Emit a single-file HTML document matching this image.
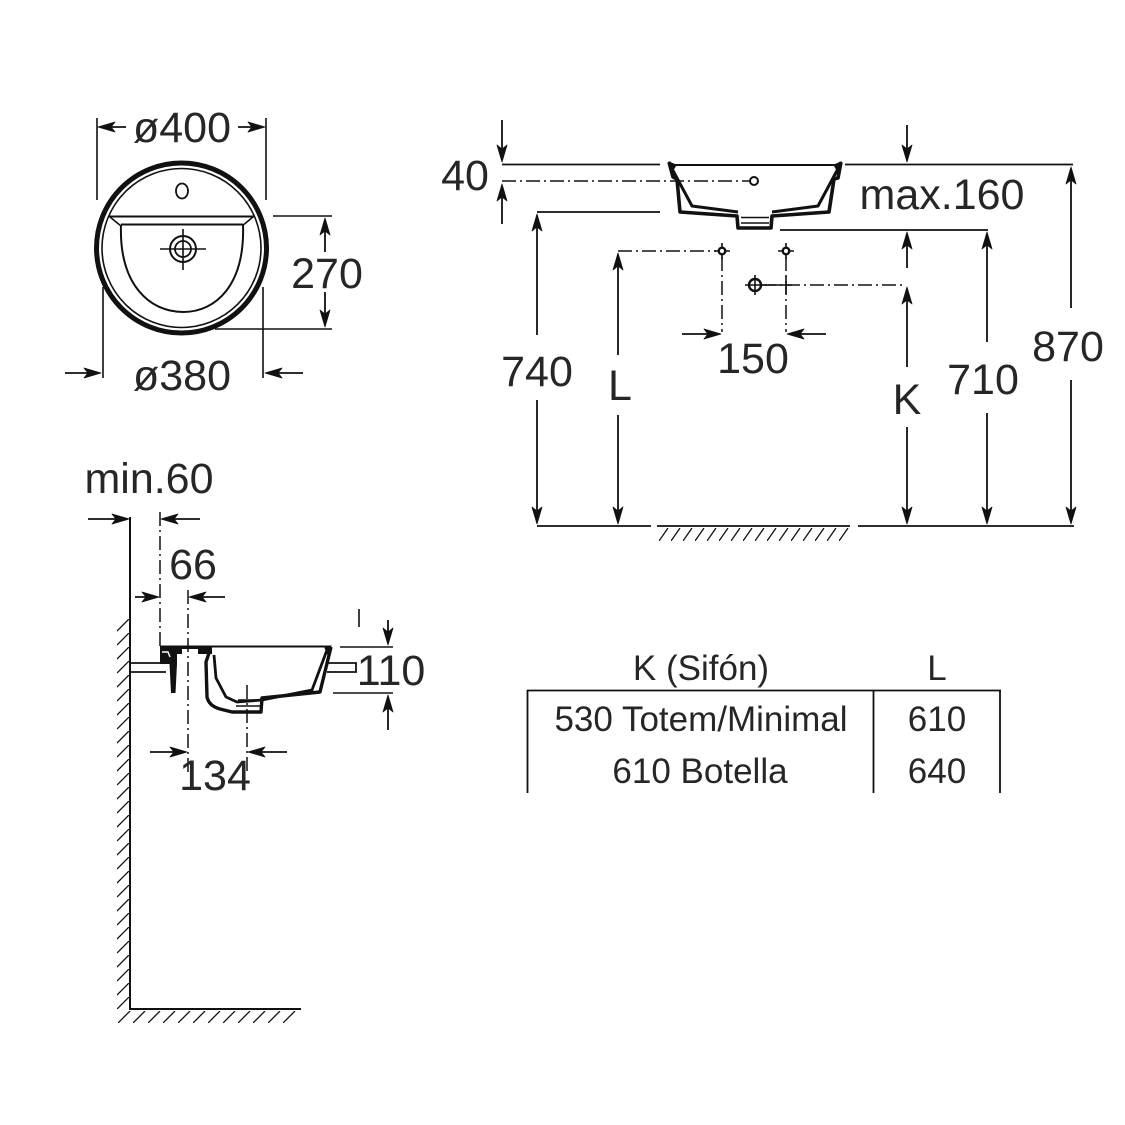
<!DOCTYPE html>
<html>
<head>
<meta charset="utf-8">
<style>
html,body{margin:0;padding:0;background:#fff;}
svg{display:block;}
text{font-family:"Liberation Sans",Arial,sans-serif;fill:#262626;}
</style>
</head>
<body>
<svg width="1125" height="1125" viewBox="0 0 1125 1125" xmlns="http://www.w3.org/2000/svg">
<defs>
<path id="h" d="M0,0 L-17,-5 L-13,0 L-17,5 Z" fill="#111" stroke="#111" stroke-width="0.8" stroke-linejoin="round"/>
<pattern id="pw" x="117" y="619" width="12" height="14" patternUnits="userSpaceOnUse">
<line x1="0" y1="12" x2="12" y2="0" stroke="#111" stroke-width="1.3"/>
</pattern>
<pattern id="pf" x="118" y="1011" width="15" height="12" patternUnits="userSpaceOnUse">
<line x1="0" y1="12" x2="12" y2="0" stroke="#111" stroke-width="1.3"/>
</pattern>
<pattern id="pg" x="659" y="528" width="12" height="13" patternUnits="userSpaceOnUse">
<line x1="0" y1="13" x2="9" y2="0" stroke="#111" stroke-width="1.3"/>
</pattern>
</defs>
<rect width="1125" height="1125" fill="#fff"/>

<!-- plan view -->
<g fill="none" stroke="#111">
<circle cx="181.5" cy="248" r="85" stroke-width="5"/>
<circle cx="181.5" cy="248" r="79.5" stroke-width="1.6"/>
<ellipse cx="182" cy="191" rx="6" ry="7.5" stroke-width="1.8"/>
<path d="M109,216.5 H254 M121,224.5 H243" stroke-width="2"/>
<path d="M110,217 L121,226 M253,217 L242,226" stroke-width="1.6"/>
<path d="M121,225 C119,285 150,312 183,312 C216,312 245,285 243,225" stroke-width="2"/>
<circle cx="183" cy="249" r="13" stroke-width="2"/>
<circle cx="183" cy="249" r="8" stroke-width="1.8"/>
<path d="M160,249 H206 M183,229 V270" stroke-width="1.6"/>
<path d="M97,118 V200 M266,118 V200 M273,216 H332 M215,329 H332 M103,287 V378 M263,287 V378" stroke-width="1.6"/>
<path d="M126,127 H100 M238,127 H263 M325,252 V220 M325,292 V325 M65,373 H99 M303,373 H267" stroke-width="1.8"/>
</g>
<use href="#h" transform="translate(98,127) rotate(180)"/>
<use href="#h" transform="translate(265,127)"/>
<use href="#h" transform="translate(325,218) rotate(-90)"/>
<use href="#h" transform="translate(325,327) rotate(90)"/>
<use href="#h" transform="translate(101,373)"/>
<use href="#h" transform="translate(265,373) rotate(180)"/>
<text x="182" y="142" font-size="43" text-anchor="middle">ø400</text>
<text x="327" y="288" font-size="43" text-anchor="middle">270</text>
<text x="182" y="390" font-size="43" text-anchor="middle">ø380</text>

<!-- elevation -->
<g fill="none" stroke="#111">
<path d="M502,164.5 H660 M537,212 H660 M845,164.5 H1073 M780,230 H988 M537,526 H651 M657,526 H850 M858,526 H1074" stroke-width="1.8"/>
<path d="M502,181 H750 M618,251 H716 M722,257 V332 M786,257 V332 M762,285 H906" stroke-width="1.5" stroke-dasharray="14 4 2 4"/>
<circle cx="754" cy="181" r="4" stroke-width="2" fill="#fff"/>
<path d="M714,251 H730 M722,243 V259 M778,251 H794 M786,243 V259 M745,285 H792 M755,275 V295 M786,276 V294" stroke-width="1.6"/>
<circle cx="722" cy="251" r="3.3" stroke-width="2.4" fill="#fff"/>
<circle cx="786" cy="251" r="3.3" stroke-width="2.4" fill="#fff"/>
<circle cx="755" cy="285" r="6" stroke-width="2.4"/>
<path d="M670,165 H840" stroke-width="2"/>
<path d="M669,162 L673,177 L677,179 L680,212 L737,216 L738,228 L771,228 L772,216 L829,212 L834,179 L838,178 L841,162" stroke-width="3.6" stroke-linejoin="round"/>
<path d="M670,165 L692,206 L738,212 M840,165 L818,206 L772,212" stroke-width="3" stroke-linejoin="round"/>
<path d="M669,162 L676,165 L672,172 Z M841,162 L834,165 L838,172 Z" fill="#111" stroke-width="1"/>
<path d="M741,217.5 H769 M741,223 H769" stroke-width="1.6"/>
<path d="M502,120 V160 M502,224 V186 M907,125 V160 M537,335 V216 M537,400 V522 M618,355 V255 M618,415 V522 M907,268 V234 M907,367 V289 M907,427 V522 M987,342 V234 M987,413 V522 M1071,308 V169 M1071,380 V522 M682,334 H719 M826,334 H789" stroke-width="1.8"/>
</g>
<rect x="659" y="528" width="192" height="13" fill="url(#pg)"/>
<use href="#h" transform="translate(502,162) rotate(90)"/>
<use href="#h" transform="translate(502,184) rotate(-90)"/>
<use href="#h" transform="translate(907,162) rotate(90)"/>
<use href="#h" transform="translate(537,214) rotate(-90)"/>
<use href="#h" transform="translate(537,524) rotate(90)"/>
<use href="#h" transform="translate(618,253) rotate(-90)"/>
<use href="#h" transform="translate(618,524) rotate(90)"/>
<use href="#h" transform="translate(907,232) rotate(-90)"/>
<use href="#h" transform="translate(907,287) rotate(-90)"/>
<use href="#h" transform="translate(907,524) rotate(90)"/>
<use href="#h" transform="translate(987,232) rotate(-90)"/>
<use href="#h" transform="translate(987,524) rotate(90)"/>
<use href="#h" transform="translate(1071,167) rotate(-90)"/>
<use href="#h" transform="translate(1071,524) rotate(90)"/>
<use href="#h" transform="translate(721,334)"/>
<use href="#h" transform="translate(787,334) rotate(180)"/>
<text x="465" y="190" font-size="43" text-anchor="middle">40</text>
<text x="942" y="209" font-size="43" text-anchor="middle">max.160</text>
<text x="1068" y="361" font-size="43" text-anchor="middle">870</text>
<text x="537" y="386" font-size="43" text-anchor="middle">740</text>
<text x="620" y="400" font-size="43" text-anchor="middle">L</text>
<text x="753" y="373" font-size="43" text-anchor="middle">150</text>
<text x="907" y="414" font-size="43" text-anchor="middle">K</text>
<text x="983" y="394" font-size="43" text-anchor="middle">710</text>

<!-- side view -->
<rect x="117" y="619" width="12" height="390" fill="url(#pw)"/>
<rect x="118" y="1011" width="180" height="12" fill="url(#pf)"/>
<g fill="none" stroke="#111">
<path d="M130,517 V1009 H301" stroke-width="2"/>
<path d="M130,663 H166 M130,672 H166 M327,663 H356 V672 H327" stroke-width="1.8"/>
<path d="M160,646.5 H331" stroke-width="2"/>
<path d="M160,646 L212,646 L212,654 L177,654 L177,664 L175.5,693 L171,693 L169.5,664 L160,664 Z" fill="#111" stroke="none"/>
<rect x="182" y="649" width="16" height="5" fill="#fff" stroke="none"/>
<path d="M162,652 L168,652 L170,657" stroke="#fff" stroke-width="1.4"/>
<path d="M210,650 L206,662 L207,697 Q209,706 220,709 L232,712 L261,712 L262,698 L320,692 L331,647" stroke-width="3.4" stroke-linejoin="round"/>
<path d="M214,655 L216,678 L226,697 L237,702 L262,700 L312,690 L327,650" stroke-width="2.8" stroke-linejoin="round"/>
<path d="M331,646 L325,648 L329,657 Z" fill="#111" stroke-width="1"/>
<path d="M238,700 H258 M236,706 H260" stroke-width="1.5"/>
<path d="M160,512 V646 M188,590 V775 M247,685 V775" stroke-width="1.5" stroke-dasharray="14 4 2 4"/>
<path d="M340,647 H393 M333,693 H393 M359,609 V627" stroke-width="1.6"/>
<path d="M88,519 H127 M200,519 H163 M135,597 H157 M225,597 H191 M150,752 H185 M287,752 H250 M388,620 V643 M388,730 V697" stroke-width="1.8"/>
</g>
<use href="#h" transform="translate(129,519)"/>
<use href="#h" transform="translate(161,519) rotate(180)"/>
<use href="#h" transform="translate(159,597)"/>
<use href="#h" transform="translate(189,597) rotate(180)"/>
<use href="#h" transform="translate(187,752)"/>
<use href="#h" transform="translate(248,752) rotate(180)"/>
<use href="#h" transform="translate(388,645) rotate(90)"/>
<use href="#h" transform="translate(388,695) rotate(-90)"/>
<text x="149" y="493" font-size="43" text-anchor="middle">min.60</text>
<text x="193" y="579" font-size="43" text-anchor="middle">66</text>
<text x="215" y="790" font-size="43" text-anchor="middle">134</text>
<text x="391" y="685" font-size="43" text-anchor="middle">110</text>

<!-- table -->
<path d="M527,690.5 H1001 M527.5,690 V793 M873.5,690 V793 M1000,690 V793" stroke="#111" stroke-width="1.8" fill="none"/>
<text x="701" y="680" font-size="35" text-anchor="middle">K (Sifón)</text>
<text x="937" y="680" font-size="35" text-anchor="middle">L</text>
<text x="701" y="731" font-size="35" text-anchor="middle">530 Totem/Minimal</text>
<text x="937" y="731" font-size="35" text-anchor="middle">610</text>
<text x="700" y="783" font-size="35" text-anchor="middle">610 Botella</text>
<text x="937" y="783" font-size="35" text-anchor="middle">640</text>
</svg>
</body>
</html>
